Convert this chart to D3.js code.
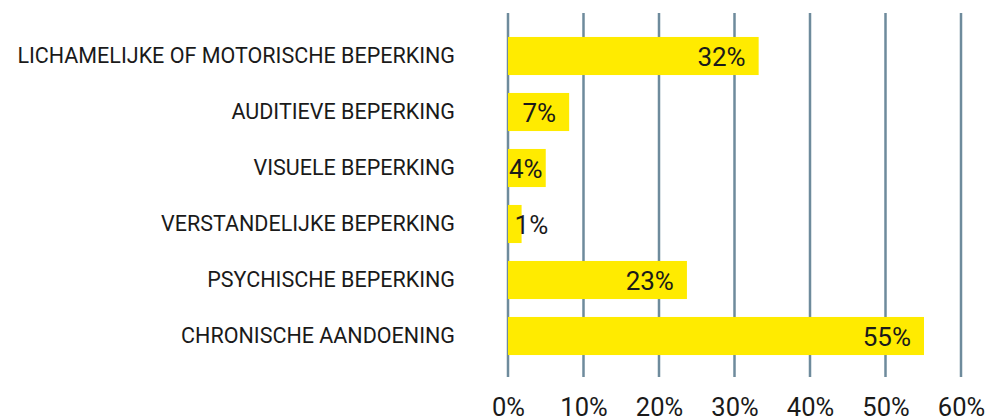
<!DOCTYPE html>
<html>
<head>
<meta charset="utf-8">
<script src="https://cdn.jsdelivr.net/npm/d3@7"></script>
<style>
  html, body { margin: 0; padding: 0; background: #fff; }
  svg { display: block; }
  text { font-family: Roboto, "Noto Sans", sans-serif; fill: #1a1a1a; }
</style>
</head>
<body>
<svg id="chart" width="987" height="419"></svg>
<script>
const categories = [
  "LICHAMELIJKE OF MOTORISCHE BEPERKING",
  "AUDITIEVE BEPERKING",
  "VISUELE BEPERKING",
  "VERSTANDELIJKE BEPERKING",
  "PSYCHISCHE BEPERKING",
  "CHRONISCHE AANDOENING"
];
// bar lengths as drawn (percent)
const barValues = [33.2, 8.1, 5.0, 1.8, 23.7, 55.1];
// value labels as printed
const labelValues = [32, 7, 4, 1, 23, 55];
const tickValues = [0, 10, 20, 30, 40, 50, 60];

const svg = d3.select("#chart");
const x = d3.scaleLinear().domain([0, 60]).range([508, 961]);
const y = d3.scaleBand().domain(categories).range([28, 364]).paddingInner(0.32).paddingOuter(0.16);

// gridlines
svg.append("g").selectAll("line").data(tickValues).join("line")
  .attr("x1", d => x(d)).attr("x2", d => x(d))
  .attr("y1", 13).attr("y2", 377)
  .attr("stroke", "#6e8b9c").attr("stroke-width", 2.5);

// x-axis labels
const xAxis = d3.axisBottom(x).tickValues(tickValues).tickSize(0).tickFormat(d => d + "%");
const gx = svg.append("g").attr("transform", "translate(0,392)").call(xAxis);
gx.select(".domain").remove();
gx.selectAll("text").attr("font-size", 25.5).attr("dy", 0).attr("y", 23.5)
  .style("font-family", "Roboto, sans-serif").attr("fill", "#1a1a1a");

const data = categories.map((c, i) => ({ c, v: barValues[i], l: labelValues[i] }));

// bars
svg.append("g").selectAll("rect").data(data).join("rect")
  .attr("x", x(0)).attr("y", d => y(d.c))
  .attr("width", d => x(d.v) - x(0)).attr("height", y.bandwidth())
  .attr("fill", "#ffeb00");

// category labels
svg.append("g").selectAll("text").data(data).join("text")
  .attr("x", 455).attr("y", d => y(d.c) + y.bandwidth() / 2 + 7)
  .attr("text-anchor", "end").attr("font-size", 21.5)
  .text(d => d.c);

// value labels
const vl = svg.append("g").selectAll("text").data(data).join("text")
  .attr("y", d => y(d.c) + y.bandwidth() / 2 + 10)
  .attr("font-size", 26)
  .text(d => d.l + "%");
vl.each(function(d) {
  const t = d3.select(this);
  const w = this.getComputedTextLength();
  const end = x(d.v);
  const bw = end - x(0);
  if (bw > w + 26) {
    t.attr("text-anchor", "end").attr("x", end - 13);
  } else if (bw > w) {
    t.attr("text-anchor", "start").attr("x", x(0) + 1);
  } else {
    t.attr("text-anchor", "start").attr("x", end - 7);
  }
});
</script>
</body>
</html>
